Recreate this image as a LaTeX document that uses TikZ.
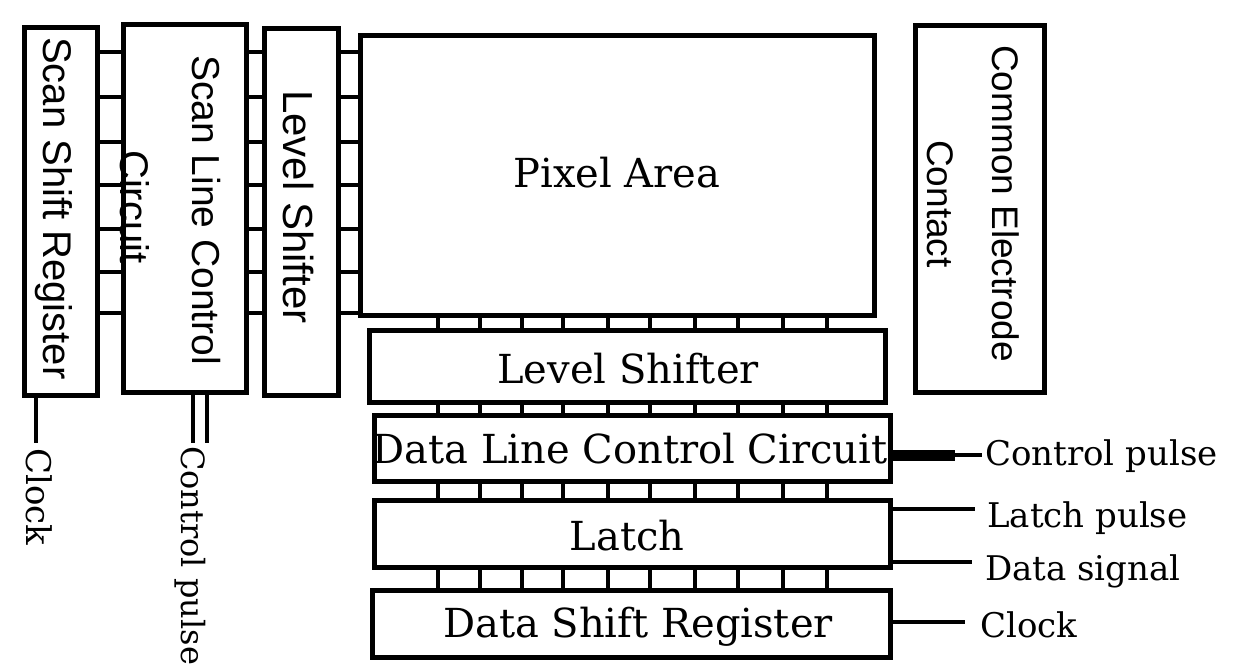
\documentclass[tikz,border=0pt]{standalone}
\usepackage{fontspec}
\setmainfont{DejaVu Serif}
\newfontfamily\lsans{Liberation Sans}
\begin{document}
\begin{tikzpicture}[x=1pt,y=-1pt,
  box/.style={draw, line width=5pt, inner sep=0pt, outer sep=0pt},
  rung/.style={line width=4pt},
  wire/.style={line width=4.5pt},
  biglab/.style={font=\fontsize{40}{48}\selectfont, inner sep=0pt, anchor=base},
  smalllab/.style={font=\fontsize{34}{40}\selectfont, inner sep=0pt, anchor=base west},
  sanslab/.style={font=\lsans\fontsize{#1}{#1}\selectfont, inner sep=0pt, rotate=-90, anchor=base west},
]
\useasboundingbox (0,0) rectangle (1249,671);
% boxes
\node[box, minimum width=73pt,  minimum height=368pt] (ssr) at (61,211.5) {};
\node[box, minimum width=123pt, minimum height=368pt] (slc) at (185,208.5) {};
\node[box, minimum width=74pt,  minimum height=367pt] (lsl) at (301.5,212) {};
\node[box, minimum width=514pt, minimum height=280pt] (pix) at (617.5,175.5) {};
\node[box, minimum width=129pt, minimum height=367pt] (cec) at (980,209) {};
\node[box, minimum width=516pt, minimum height=72pt]  (lsb) at (627.5,366.5) {};
\node[box, minimum width=516pt, minimum height=66pt]  (dlc) at (632.5,448.5) {};
\node[box, minimum width=516pt, minimum height=67pt]  (lat) at (632.5,534) {};
\node[box, minimum width=518pt, minimum height=67pt]  (dsr) at (631.5,624) {};
% texts in boxes
\node[sanslab=40] (tssr) at (43,37) {Scan Shift Register};
\node[sanslab=39] (tslc) at (192,55) {Scan Line Control};
\node[sanslab=40] (tcir) at (120,150) {Circuit};
\node[sanslab=42] (tlsl) at (283,90) {Level Shifter};
\node[sanslab=37] (tcec) at (992,45) {Common Electrode};
\node[sanslab=37] (tcon) at (927,140) {Contact};
\node[biglab] (tpix) at (617,188) {Pixel Area};
\node[biglab] (tlsb) at (628,383) {Level Shifter};
\node[biglab] (tdlc) at (630,463) {Data Line Control Circuit};
\node[biglab] (tlat) at (627,550) {Latch};
\node[biglab] (tdsr) at (638,637) {Data Shift Register};
% ladder rungs on the left
\foreach \yy in {52,97,142,185,229,272,313} {
  \draw[rung] (ssr.east |- 0,\yy) -- (slc.west |- 0,\yy);
  \draw[rung] (slc.east |- 0,\yy) -- (lsl.west |- 0,\yy);
  \draw[rung] (lsl.east |- 0,\yy) -- (pix.west |- 0,\yy);
}
% ticks between stacked blocks
\foreach \xx in {438,480,522,563,608,650,695,738,783,827} {
  \draw[rung] (pix.south -| \xx,0) -- (lsb.north -| \xx,0);
  \draw[rung] (lsb.south -| \xx,0) -- (dlc.north -| \xx,0);
  \draw[rung] (dlc.south -| \xx,0) -- (lat.north -| \xx,0);
  \draw[rung] (lat.south -| \xx,0) -- (dsr.north -| \xx,0);
}
% right side signals
\node[smalllab] (rcp) at (985,465) {Control pulse};
\node[smalllab] (rlp) at (987,527) {Latch pulse};
\node[smalllab] (rds) at (985,580) {Data signal};
\node[smalllab] (rck) at (980,637) {Clock};
\coordinate (cpm) at (955,455);
\coordinate (cpe) at (982,455);
\draw[line width=11pt] (dlc.east |- cpm) -- (cpm);
\draw[line width=4pt] (cpm) -- (cpe);
\coordinate (lpe) at (975,509);
\draw[wire] (lat.east |- lpe) -- (lpe);
\coordinate (dse) at (972,562);
\draw[wire] (lat.east |- dse) -- (dse);
\coordinate (cke) at (965,622);
\draw[wire] (dsr.east |- cke) -- (cke);
% left bottom signals
\coordinate (lck) at (36,443);
\draw[wire] (ssr.south -| lck) -- (lck);
\coordinate (lcp1) at (193,443);
\coordinate (lcp2) at (207,443);
\draw[wire] (slc.south -| lcp1) -- (lcp1);
\draw[wire] (slc.south -| lcp2) -- (lcp2);
\node[smalllab, rotate=-90] (lckl) at (27,448) {Clock};
\node[smalllab, rotate=-90, font=\fontsize{32}{38}\selectfont] (lcpl) at (181,446) {Control pulse};
\end{tikzpicture}
\end{document}
